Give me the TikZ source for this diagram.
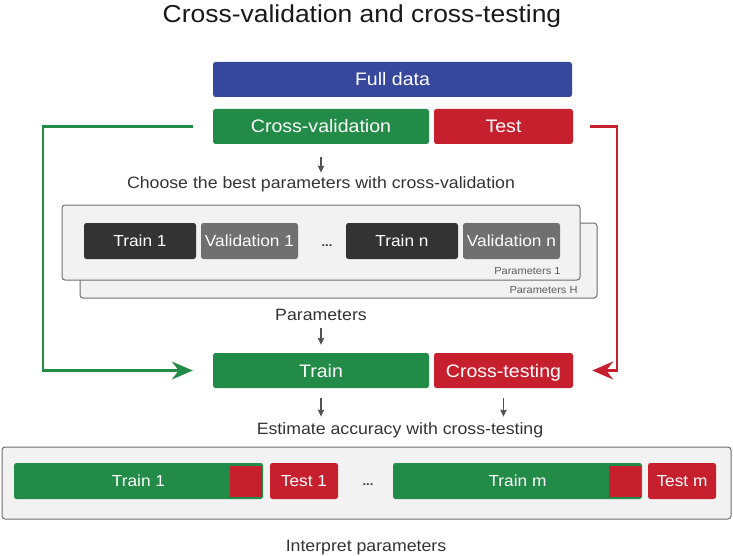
\documentclass[tikz,border=0pt]{standalone}
\usepackage{fontspec}
\setmainfont{Liberation Sans}[FakeStretch=1.08]
\usetikzlibrary{arrows.meta, positioning, calc}
\definecolor{fullblue}{RGB}{55,71,156}
\definecolor{cvgreen}{RGB}{33,139,71}
\definecolor{testred}{RGB}{198,32,47}
\definecolor{darkbox}{RGB}{51,51,51}
\definecolor{midbox}{RGB}{112,112,112}
\definecolor{panelfill}{RGB}{242,242,242}
\definecolor{panelline}{RGB}{110,110,110}
\definecolor{notegray}{RGB}{51,51,51}

\begin{document}
\begin{tikzpicture}[x=1pt, y=-1pt,
  bar/.style={rounded corners=2.5pt, text=white, inner sep=0pt, minimum height=35pt,
    text height=13pt, text depth=0pt, font=\fontsize{18.1}{21}\selectfont},
  slot/.style={bar, minimum height=36pt, text height=11.5pt, font=\fontsize{16}{19}\selectfont},
  panelbox/.style={draw=panelline, fill=panelfill, rounded corners=3pt, line width=1pt,
    inner sep=0pt},
  note/.style={text=notegray, anchor=base, font=\fontsize{16.4}{19}\selectfont},
  paramtag/.style={text=notegray!80, anchor=base east, font=\fontsize{10.2}{12}\selectfont},
  hint/.style={-{Stealth[length=7pt,width=6.5pt,inset=1pt]}, notegray!85, line width=1.2pt},
  route/.style={line width=2.4pt, -{Stealth[length=21pt,width=18pt,inset=7pt]}}]
  \useasboundingbox (0,0) rectangle (733,556);

  \node[anchor=base, font=\fontsize{24.5}{29}\selectfont, text=black!90] (title) at (362,23)
    {Cross-validation and cross-testing};

  % Split of the data
  \node[bar, fill=fullblue, minimum width=359pt] (full) at (392.5,79.5) {Full data};
  \node[bar, fill=cvgreen, minimum width=216pt] (cv) at (321,126.5) {Cross-validation};
  \node[bar, fill=testred, minimum width=139pt] (test) at (503.5,126.5) {Test};
  \node[note] (choose) at (321,189) {Choose the best parameters with cross-validation};
  \draw[hint, shorten <=13pt, shorten >=1pt] (cv.south) -- (choose.north);

  % Parameter sets
  \node[panelbox, minimum width=517pt, minimum height=75pt] (setH) at (338.5,260.5) {};
  \node[panelbox, minimum width=518pt, minimum height=75pt] (set1) at (321,242.5) {};
  \node[slot, fill=darkbox, minimum width=112pt] (trainA) at (140,241) {Train 1};
  \node[slot, fill=midbox, minimum width=97pt] (valA) at (249.5,241) {Validation 1};
  \node[anchor=base, text=notegray, font=\bfseries\fontsize{12}{12}\selectfont] (dotsA) at (327,246) {...};
  \node[slot, fill=darkbox, minimum width=112pt] (trainN) at (402,241) {Train n};
  \node[slot, fill=midbox, minimum width=97pt] (valN) at (511.5,241) {Validation n};
  \node[paramtag] (tag1) at (564,274) {Parameters 1};
  \node[paramtag] (tagH) at (581,293) {Parameters H};
  \node[note] (params) at (321,320) {Parameters};

  % Final fit
  \node[bar, fill=cvgreen, minimum width=216pt] (train) at (321,370.5) {Train};
  \node[bar, fill=testred, minimum width=139pt] (ctest) at (503.5,370.5) {Cross-testing};
  \draw[hint, shorten <=4pt, shorten >=8pt] (params.south) -- (train.north);
  \node[note] (estimate) at (400,434) {Estimate accuracy with cross-testing};
  \draw[hint, shorten <=10pt, shorten >=2pt] (train.south) -- (train.south |- estimate.north);
  \draw[hint, shorten <=10pt, shorten >=2pt] (ctest.south) -- (ctest.south |- estimate.north);

  % Routes
  \draw[route, cvgreen] ([xshift=-20pt]cv.west) -- ++(-150,0) |- ([xshift=-20pt]train.west);
  \draw[route, testred] ([xshift=17pt]test.east) -- ++(27,0) |- ([xshift=19pt]ctest.east);

  % Cross-testing folds
  \node[panelbox, minimum width=729pt, minimum height=72pt] (folds) at (366.5,483) {};
  \node[slot, fill=cvgreen, minimum width=249pt] (foldA) at (138.5,481) {Train 1};
  \node[fill=testred, minimum width=32pt, minimum height=31pt, inner sep=0pt, anchor=east]
    (holdA) at ([xshift=-1.5pt]foldA.east) {};
  \node[slot, fill=testred, minimum width=68pt] (testA) at (304,481) {Test 1};
  \node[anchor=base, text=notegray, font=\bfseries\fontsize{12}{12}\selectfont] (dotsB) at (368,485) {...};
  \node[slot, fill=cvgreen, minimum width=249pt] (foldM) at (517.5,481) {Train m};
  \node[fill=testred, minimum width=32pt, minimum height=31pt, inner sep=0pt, anchor=east]
    (holdM) at ([xshift=-1.5pt]foldM.east) {};
  \node[slot, fill=testred, minimum width=68pt] (testM) at (682,481) {Test m};
  \node[note] (interpret) at (366,551) {Interpret parameters};
\end{tikzpicture}
\end{document}
